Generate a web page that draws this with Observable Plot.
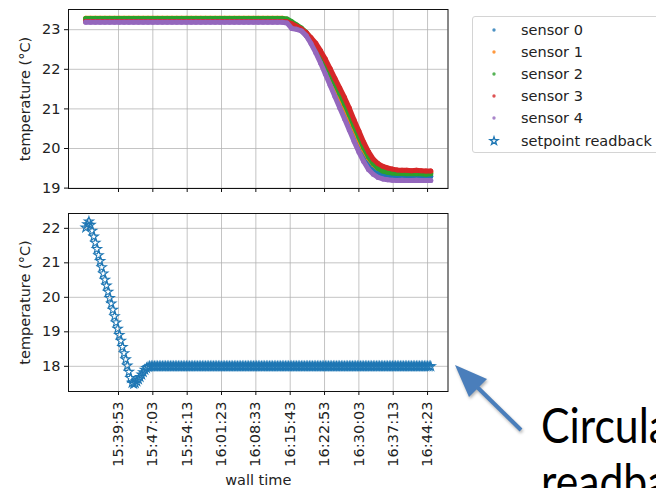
<!DOCTYPE html>
<html>
<head>
<meta charset="utf-8">
<script src="https://cdn.jsdelivr.net/npm/d3@7"></script>
<script src="https://cdn.jsdelivr.net/npm/@observablehq/plot@0.6"></script>
<style>
  html, body { margin: 0; padding: 0; background: #fff; }
  #figure { position: relative; width: 656px; height: 488px; overflow: hidden; background: #fff;
            font-family: "DejaVu Sans", sans-serif; color: #222; }
  #figure > * { position: absolute; }
  #legend { left: 472px; top: 16px; width: 230px; height: 137px; border: 1px solid #d4d4d4;
            border-radius: 3px; background: #fff; padding-top: 2px; box-sizing: border-box; }
  #legend .row { height: 22.1px; display: flex; align-items: center; font-size: 14.5px; color: #222; }
  #legend .row svg { width: 48px; height: 22px; flex: none; }
  #callout { left: 0; top: 0; }
</style>
</head>
<body>
<div id="figure"></div>
<script>
// Logged run: five room sensors (one reading per minute) and the setpoint readback (every 20 s)
const logDate = "2019-05-14";
const logStart = "15:33:03";
const sensorStepSeconds = 60;
const readbackStepSeconds = 20;

const sensorNames = ["sensor 0", "sensor 1", "sensor 2", "sensor 3", "sensor 4"];
const sensorColors = ["#1f77b4", "#ff7f0e", "#2ca02c", "#d62728", "#9467bd"];
const readbackName = "setpoint readback";
const readbackColor = "#1f77b4";

const sensor0 = [
  23.27, 23.27, 23.27, 23.27, 23.27, 23.27, 23.27, 23.27, 23.27, 23.27, 23.27, 23.27, 23.27, 23.27,
  23.27, 23.27, 23.27, 23.27, 23.27, 23.27, 23.27, 23.27, 23.27, 23.27, 23.27, 23.27, 23.27, 23.27,
  23.27, 23.27, 23.27, 23.27, 23.27, 23.27, 23.27, 23.27, 23.27, 23.27, 23.27, 23.27, 23.27, 23.27,
  23.24, 23.14, 23.06, 22.98, 22.86, 22.69, 22.49, 22.26, 22.01, 21.75, 21.48, 21.21, 20.94, 20.66,
  20.38, 20.10, 19.84, 19.62, 19.47, 19.38, 19.33, 19.31,
  19.30, 19.30, 19.29, 19.30, 19.30, 19.29, 19.30, 19.29, 19.30
];
const sensor1 = [
  23.29, 23.29, 23.29, 23.29, 23.29, 23.29, 23.29, 23.29, 23.29, 23.29, 23.29, 23.29, 23.29, 23.29,
  23.29, 23.29, 23.29, 23.29, 23.29, 23.29, 23.29, 23.29, 23.29, 23.29, 23.29, 23.29, 23.29, 23.29,
  23.29, 23.29, 23.29, 23.29, 23.29, 23.29, 23.29, 23.29, 23.29, 23.29, 23.29, 23.29, 23.29, 23.29,
  23.26, 23.18, 23.10, 23.01, 22.89, 22.73, 22.54, 22.32, 22.08, 21.83, 21.57, 21.31, 21.05, 20.78,
  20.50, 20.22, 19.97, 19.76, 19.60, 19.50, 19.45, 19.42,
  19.41, 19.40, 19.40, 19.40, 19.39, 19.40, 19.39, 19.39, 19.40
];
const sensor2 = [
  23.28, 23.28, 23.28, 23.28, 23.28, 23.28, 23.28, 23.28, 23.28, 23.28, 23.28, 23.28, 23.28, 23.28,
  23.28, 23.28, 23.28, 23.28, 23.28, 23.28, 23.28, 23.28, 23.28, 23.28, 23.28, 23.28, 23.28, 23.28,
  23.28, 23.28, 23.28, 23.28, 23.28, 23.28, 23.28, 23.28, 23.28, 23.28, 23.28, 23.28, 23.28, 23.28,
  23.27, 23.20, 23.12, 23.04, 22.93, 22.78, 22.60, 22.39, 22.15, 21.90, 21.64, 21.39, 21.13, 20.86,
  20.57, 20.29, 20.02, 19.79, 19.62, 19.50, 19.43, 19.40,
  19.38, 19.37, 19.37, 19.36, 19.37, 19.36, 19.36, 19.35, 19.36
];
const sensor3 = [
  23.21, 23.21, 23.21, 23.21, 23.21, 23.21, 23.21, 23.21, 23.21, 23.21, 23.21, 23.21, 23.21, 23.21,
  23.21, 23.21, 23.21, 23.21, 23.21, 23.21, 23.21, 23.21, 23.21, 23.21, 23.21, 23.21, 23.21, 23.21,
  23.21, 23.21, 23.21, 23.21, 23.21, 23.21, 23.21, 23.21, 23.21, 23.21, 23.21, 23.21, 23.21, 23.21,
  23.20, 23.15, 23.09, 23.02, 22.93, 22.80, 22.66, 22.47, 22.26, 22.02, 21.77, 21.53, 21.29, 21.02,
  20.72, 20.44, 20.16, 19.92, 19.73, 19.62, 19.55, 19.51,
  19.48, 19.46, 19.45, 19.45, 19.44, 19.45, 19.44, 19.43, 19.43
];
const sensor4 = [
  23.19, 23.19, 23.19, 23.19, 23.19, 23.19, 23.19, 23.19, 23.19, 23.19, 23.19, 23.19, 23.19, 23.19,
  23.19, 23.19, 23.19, 23.19, 23.19, 23.19, 23.19, 23.19, 23.19, 23.19, 23.19, 23.19, 23.19, 23.19,
  23.19, 23.19, 23.19, 23.19, 23.19, 23.19, 23.19, 23.19, 23.19, 23.19, 23.19, 23.19, 23.19, 23.19,
  23.17, 23.03, 23.01, 22.97, 22.85, 22.65, 22.42, 22.16, 21.88, 21.60, 21.31, 21.03, 20.75, 20.47,
  20.18, 19.91, 19.67, 19.47, 19.35, 19.27, 19.23, 19.21,
  19.20, 19.19, 19.20, 19.19, 19.19, 19.20, 19.19, 19.19, 19.19
];

const setpointReadback = [
  22.02, 22.12, 22.20, 22.10, 21.93, 21.76, 21.58, 21.40, 21.22, 21.05, 20.87, 20.69, 20.51, 20.34,
  20.16, 19.98, 19.82, 19.64, 19.45, 19.27, 19.09, 18.91, 18.74, 18.56, 18.38, 18.20, 18.02, 17.84,
  17.66, 17.52, 17.49, 17.51, 17.56, 17.62, 17.69, 17.76, 17.83, 17.90, 17.95, 17.98, 18.00,
  18.0, 18.0, 18.0, 18.0, 18.0, 18.0, 18.0, 18.0, 18.0, 18.0, 18.0, 18.0, 18.0, 18.0, 18.0, 18.0,
  18.0, 18.0, 18.0, 18.0, 18.0, 18.0, 18.0, 18.0, 18.0, 18.0, 18.0, 18.0, 18.0, 18.0, 18.0, 18.0,
  18.0, 18.0, 18.0, 18.0, 18.0, 18.0, 18.0, 18.0, 18.0, 18.0, 18.0, 18.0, 18.0, 18.0, 18.0, 18.0,
  18.0, 18.0, 18.0, 18.0, 18.0, 18.0, 18.0, 18.0, 18.0, 18.0, 18.0, 18.0, 18.0, 18.0, 18.0, 18.0,
  18.0, 18.0, 18.0, 18.0, 18.0, 18.0, 18.0, 18.0, 18.0, 18.0, 18.0, 18.0, 18.0, 18.0, 18.0, 18.0,
  18.0, 18.0, 18.0, 18.0, 18.0, 18.0, 18.0, 18.0, 18.0, 18.0, 18.0, 18.0, 18.0, 18.0, 18.0, 18.0,
  18.0, 18.0, 18.0, 18.0, 18.0, 18.0, 18.0, 18.0, 18.0, 18.0, 18.0, 18.0, 18.0, 18.0, 18.0, 18.0,
  18.0, 18.0, 18.0, 18.0, 18.0, 18.0, 18.0, 18.0, 18.0, 18.0, 18.0, 18.0, 18.0, 18.0, 18.0, 18.0,
  18.0, 18.0, 18.0, 18.0, 18.0, 18.0, 18.0, 18.0, 18.0, 18.0, 18.0, 18.0, 18.0, 18.0, 18.0, 18.0,
  18.0, 18.0, 18.0, 18.0, 18.0, 18.0, 18.0, 18.0, 18.0, 18.0, 18.0, 18.0, 18.0, 18.0, 18.0, 18.0,
  18.0, 18.0, 18.0, 18.0, 18.0, 18.0, 18.0, 18.0, 18.0, 18.0, 18.0, 18.0, 18.0, 18.0, 18.0, 18.0
];

const timeTicks = ["15:39:53", "15:47:03", "15:54:13", "16:01:23", "16:08:33",
                   "16:15:43", "16:22:53", "16:30:03", "16:37:13", "16:44:23"];
const timeDomain = ["15:29:27", "16:48:39"];
const topTempTicks = [19, 20, 21, 22, 23];
const topTempDomain = [18.99, 23.51];
const bottomTempTicks = [18, 19, 20, 21, 22];
const bottomTempDomain = [17.27, 22.43];

const calloutLines = ["Circular", "readback"];

// ---- build rows -------------------------------------------------------
const clock = s => new Date(`${logDate}T${s}Z`);
const start = clock(logStart);
const at = (i, step) => new Date(+start + i * step * 1000);

const sensorSeries = [sensor0, sensor1, sensor2, sensor3, sensor4].map((values, k) =>
  values.map((value, i) => ({sensor: sensorNames[k], time: at(i, sensorStepSeconds), value})));
const readbackRows = setpointReadback.map((value, i) => ({time: at(i, readbackStepSeconds), value}));
const tickDates = timeTicks.map(clock);

const figure = document.getElementById("figure");
const plotStyle = {fontFamily: "DejaVu Sans, sans-serif", fontSize: "14.5px", color: "#222",
                   background: "transparent", overflow: "visible"};
const grid = {stroke: "#b0b0b0", strokeOpacity: 0.75, strokeWidth: 1};
const xScale = {type: "utc", domain: timeDomain.map(clock)};
const yAxis = ticks => Plot.axisY(ticks, {tickSize: 4, tickPadding: 4, label: "temperature (°C)",
  labelAnchor: "center", labelArrow: "none", labelOffset: 49, stroke: "#111"});

// Top panel: the five sensors
const topPlot = Plot.plot({
  width: 448, height: 195, marginLeft: 68, marginRight: 0.5, marginTop: 9, marginBottom: 7,
  style: plotStyle,
  x: xScale,
  y: {domain: topTempDomain},
  marks: [
    Plot.gridX(tickDates, grid),
    Plot.gridY(topTempTicks, grid),
    ...sensorSeries.flatMap((rows, k) => [
      Plot.line(rows, {x: "time", y: "value", stroke: sensorColors[k], strokeWidth: 5,
                       strokeLinejoin: "round", strokeLinecap: "round"}),
      Plot.dot(rows, {x: "time", y: "value", r: 2.5, fill: sensorColors[k]})
    ]),
    yAxis(topTempTicks),
    Plot.axisX(tickDates, {tickSize: 4, tickFormat: () => "", label: null, stroke: "#111"}),
    Plot.frame({stroke: "#111"})
  ]
});
topPlot.style.left = "0px";
topPlot.style.top = "0px";
figure.append(topPlot);

// Bottom panel: the setpoint readback
const bottomPlot = Plot.plot({
  width: 448, height: 288, marginLeft: 68, marginRight: 0.5, marginTop: 13, marginBottom: 97,
  style: plotStyle,
  x: xScale,
  y: {domain: bottomTempDomain},
  marks: [
    Plot.gridX(tickDates, grid),
    Plot.gridY(bottomTempTicks, grid),
    Plot.dot(readbackRows, {x: "time", y: "value", symbol: "star", r: 2.9,
                            stroke: readbackColor, fill: "none", strokeWidth: 1.1}),
    yAxis(bottomTempTicks),
    Plot.axisX(tickDates, {tickSize: 4, tickPadding: 6, tickRotate: -90,
      tickFormat: d3.utcFormat("%H:%M:%S"), label: "wall time", labelAnchor: "center",
      labelArrow: "none", labelOffset: 93, stroke: "#111"}),
    Plot.frame({stroke: "#111"})
  ]
});
bottomPlot.style.left = "0px";
bottomPlot.style.top = "200px";
figure.append(bottomPlot);

// Legend
const legend = document.createElement("div");
legend.id = "legend";
const swatch = (color, symbol, size, filled) => {
  const path = d3.symbol(symbol, size)();
  return `<svg><path transform="translate(21,11)" d="${path}" ` +
    (filled ? `fill="${color}" fill-opacity="0.8"` : `fill="none" stroke="${color}" stroke-width="1.3"`) + `/></svg>`;
};
legend.innerHTML = sensorNames.map((name, k) =>
    `<div class="row">${swatch(sensorColors[k], d3.symbolCircle, 9, true)}<span>${name}</span></div>`).join("") +
  `<div class="row">${swatch(readbackColor, d3.symbolStar, 20, false)}<span>${readbackName}</span></div>`;
figure.append(legend);

// Callout arrow pointing at the readback plateau, with its caption
const callout = d3.create("svg").attr("id", "callout").attr("width", 656).attr("height", 488);
const arrow = callout.append("g").attr("fill", "#4a7ebb").attr("stroke", "#4a7ebb")
  .style("filter", "drop-shadow(1px 2px 1.5px rgba(0,0,0,0.3))");
arrow.append("line").attr("x1", 521).attr("y1", 430).attr("x2", 472).attr("y2", 382)
  .attr("stroke-width", 4);
arrow.append("polygon").attr("points", "455,365 487,379 469,397").attr("stroke", "none");
callout.append("g").attr("font-family", "Lato, sans-serif").attr("font-size", 48).attr("fill", "#000")
  .selectAll("text").data(calloutLines).join("text")
  .attr("transform", (d, i) => `translate(541,${443 + i * 56}) scale(0.89,1)`)
  .text(d => d);
figure.append(callout.node());
</script>
</body>
</html>
